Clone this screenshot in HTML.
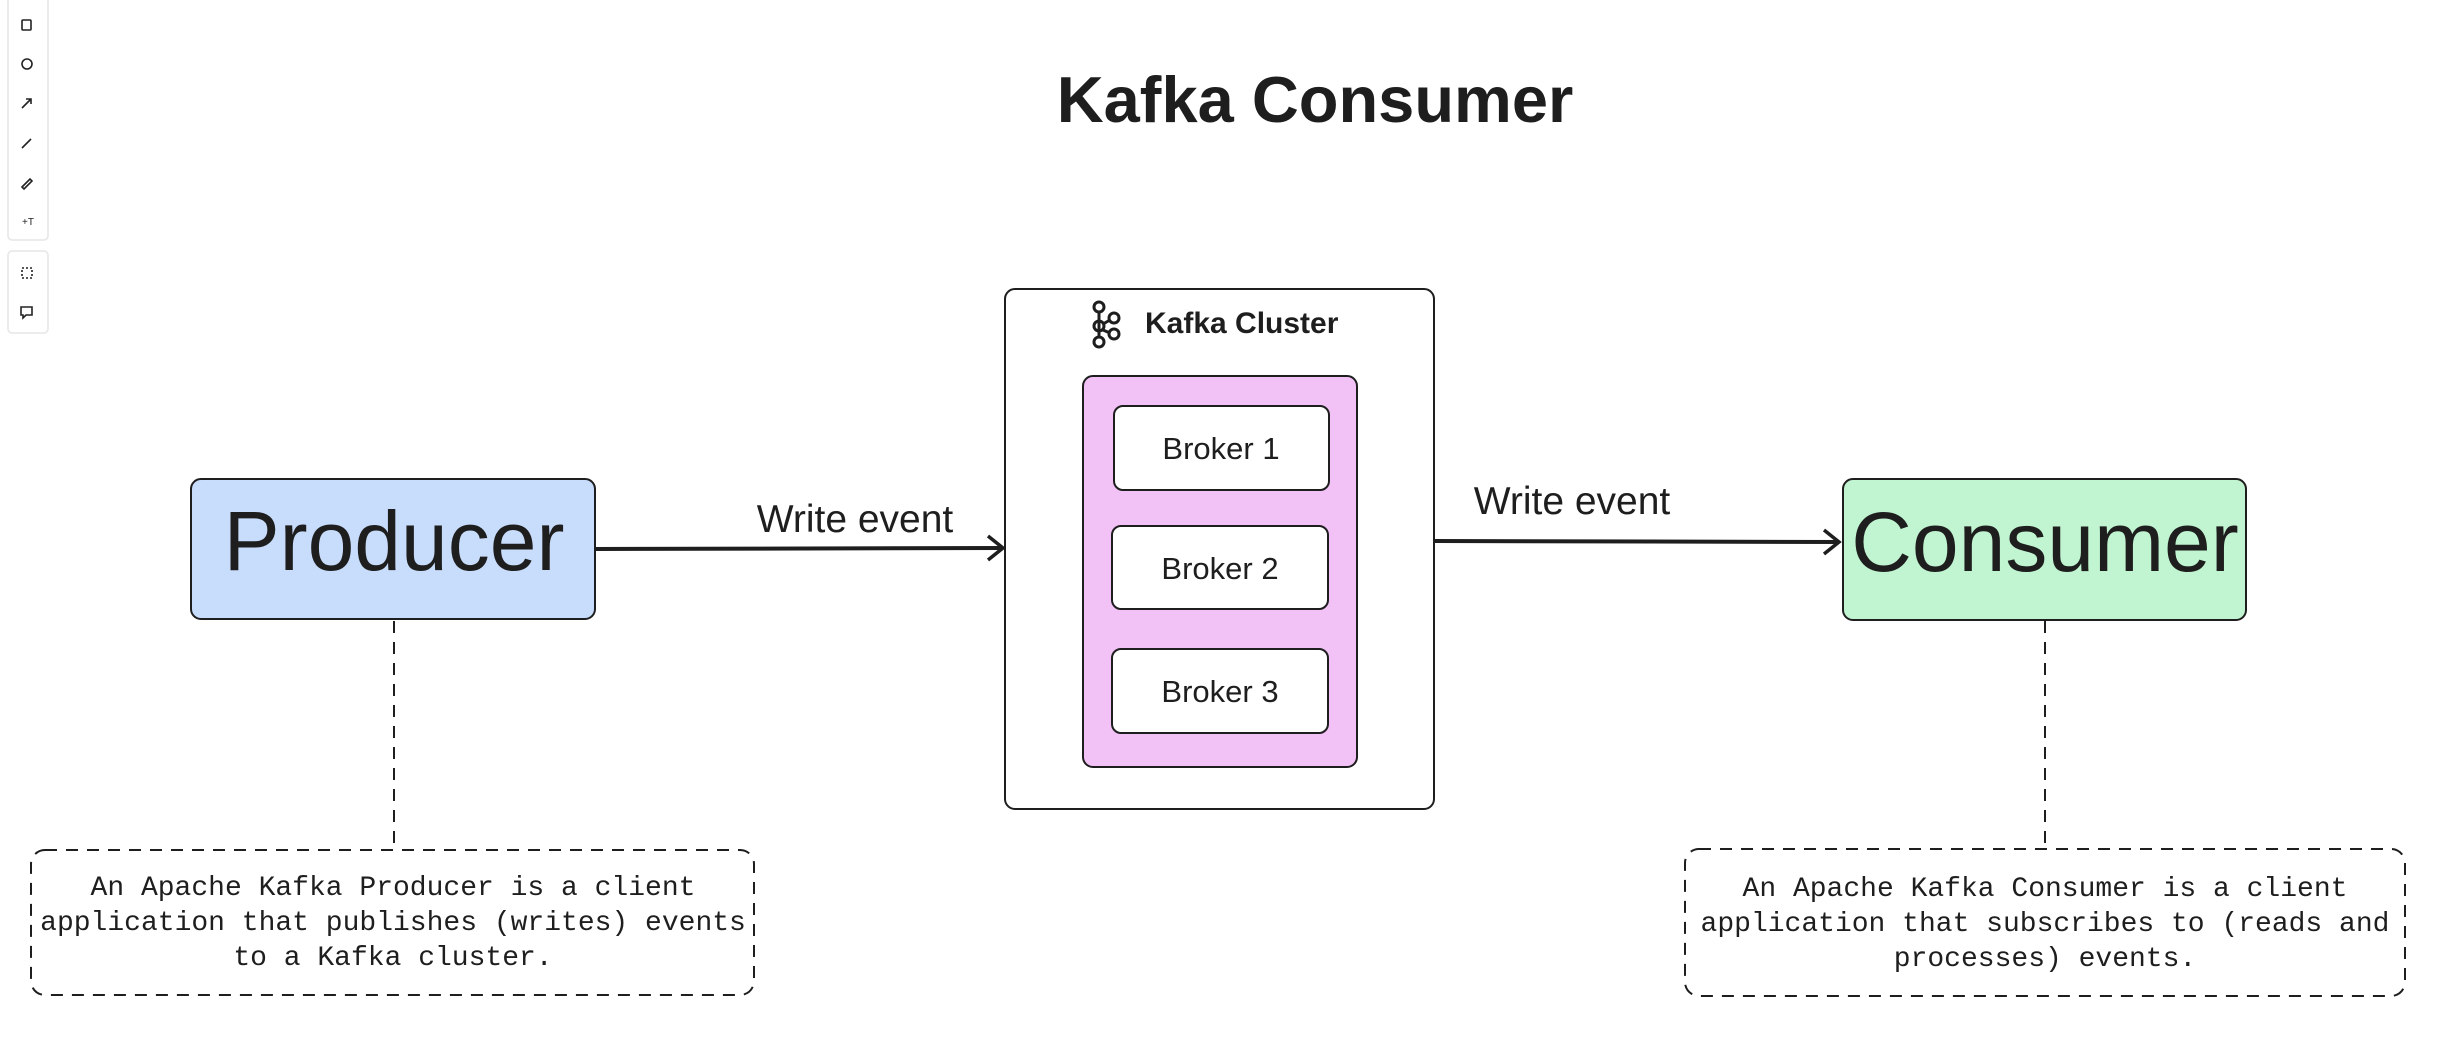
<!DOCTYPE html>
<html><head><meta charset="utf-8"><style>
html,body{margin:0;padding:0;background:#fff;}
svg{display:block}
</style></head><body>
<svg width="2457" height="1063" viewBox="0 0 2457 1063" xmlns="http://www.w3.org/2000/svg" font-family="Liberation Sans, sans-serif">
<!-- toolbar -->
<g fill="none" stroke="#e6e6e6" stroke-width="1.5">
<rect x="8" y="-5" width="40" height="245" rx="4"/>
<rect x="8" y="251" width="40" height="82" rx="4"/>
</g>
<g fill="none" stroke="#222" stroke-width="1.6">
<rect x="22" y="20" width="9" height="10" rx="1"/>
<circle cx="27" cy="64" r="5"/>
<path d="M22 108 L31 99 M26 99 L31 99 L31 104"/>
<path d="M22 148 L31 139"/>
<path d="M22 187 L30 179 L32 181 L24 189 Z"/>
<text x="22" y="225" font-size="10" fill="#222" stroke="none">+T</text>
<rect x="22" y="268" width="10" height="10" stroke-dasharray="2 2"/>
<path d="M21 307 h11 v8 h-6 l-3 3 v-3 h-2 z"/>
</g>

<text x="1315" y="122" font-size="65" font-weight="bold" text-anchor="middle" fill="#1e1e1e">Kafka Consumer</text>

<!-- producer -->
<rect x="191" y="479" width="404" height="140" rx="10" fill="#c8dcfb" stroke="#1e1e1e" stroke-width="2"/>
<text x="394" y="570" font-size="84" text-anchor="middle" fill="#1e1e1e">Producer</text>

<!-- arrow 1 -->
<path d="M596 549 L1002 548" stroke="#1e1e1e" stroke-width="4" fill="none"/>
<path d="M988 536 L1003 548 L988 560" stroke="#1e1e1e" stroke-width="3.5" fill="none"/>
<text x="855" y="532" font-size="39" text-anchor="middle" fill="#1e1e1e">Write event</text>

<!-- cluster -->
<rect x="1005" y="289" width="429" height="520" rx="10" fill="#fff" stroke="#1e1e1e" stroke-width="2"/>
<g fill="none" stroke="#1e1e1e" stroke-width="3">
<circle cx="1099" cy="307" r="5"/><circle cx="1099" cy="326" r="5"/><circle cx="1099" cy="342" r="5"/>
<circle cx="1114" cy="318" r="5"/><circle cx="1114" cy="334" r="5"/>
<path d="M1099 312 V337 M1103 324 L1110 320 M1103 330 L1110 333"/>
</g>
<text x="1145" y="333" font-size="30" font-weight="bold" fill="#1e1e1e">Kafka Cluster</text>
<rect x="1083" y="376" width="274" height="391" rx="10" fill="#f2c2f6" stroke="#1e1e1e" stroke-width="2"/>
<g fill="#fff" stroke="#1e1e1e" stroke-width="2">
<rect x="1114" y="406" width="215" height="84" rx="9"/>
<rect x="1112" y="526" width="216" height="83" rx="9"/>
<rect x="1112" y="649" width="216" height="84" rx="9"/>
</g>
<g font-size="31" text-anchor="middle" fill="#1e1e1e">
<text x="1221" y="459">Broker 1</text>
<text x="1220" y="579">Broker 2</text>
<text x="1220" y="702">Broker 3</text>
</g>

<!-- arrow 2 -->
<path d="M1435 541 L1838 542" stroke="#1e1e1e" stroke-width="4" fill="none"/>
<path d="M1824 530 L1839 542 L1824 554" stroke="#1e1e1e" stroke-width="3.5" fill="none"/>
<text x="1572" y="514" font-size="39" text-anchor="middle" fill="#1e1e1e">Write event</text>

<!-- consumer -->
<rect x="1843" y="479" width="403" height="141" rx="10" fill="#c1f5d1" stroke="#1e1e1e" stroke-width="2"/>
<text x="2045" y="571" font-size="84" text-anchor="middle" fill="#1e1e1e">Consumer</text>

<!-- dashed connectors -->
<g stroke="#1e1e1e" stroke-width="2" fill="none" stroke-dasharray="12 9">
<path d="M394 621 V849"/>
<path d="M2045 621 V848"/>
<rect x="31" y="850" width="723" height="145" rx="14"/>
<rect x="1685" y="849" width="720" height="147" rx="14"/>
</g>
<g font-family="Liberation Mono, monospace" font-size="28" text-anchor="middle" fill="#1e1e1e">
<text x="393" y="895">An Apache Kafka Producer is a client</text>
<text x="393" y="930">application that publishes (writes) events</text>
<text x="393" y="965">to a Kafka cluster.</text>
<text x="2045" y="896">An Apache Kafka Consumer is a client</text>
<text x="2045" y="931">application that subscribes to (reads and</text>
<text x="2045" y="966">processes) events.</text>
</g>
</svg>
</body></html>
